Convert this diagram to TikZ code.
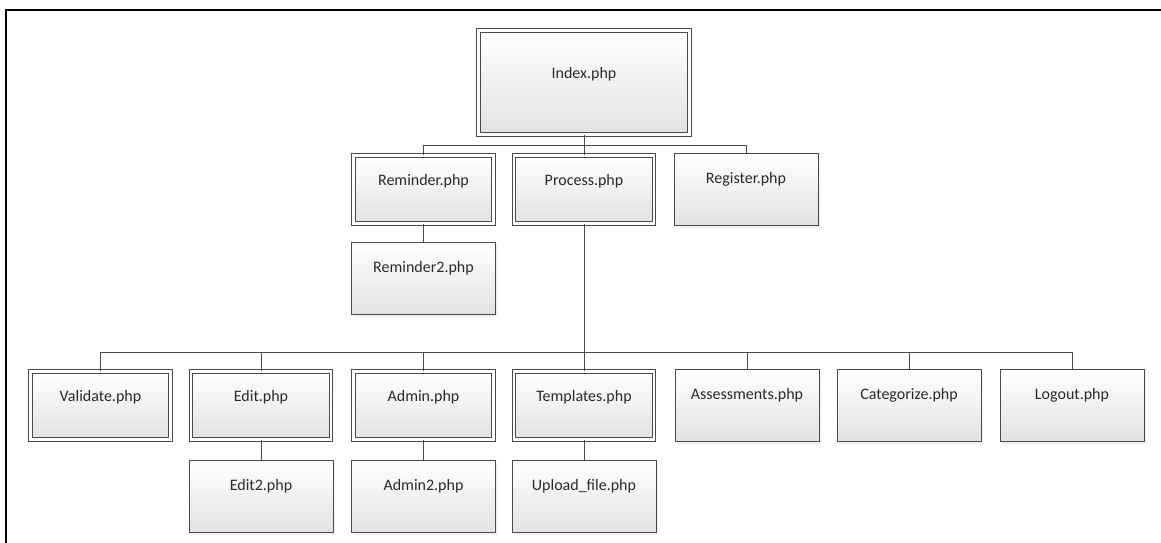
\documentclass[tikz,border=0pt]{standalone}
\usepackage{fontspec}
\setmainfont{Carlito}
\usepackage{xcolor}
\usepackage{tikz}
\usetikzlibrary{arrows.meta, positioning, shadows}

\definecolor{linegray}{HTML}{4A4A4A}
\definecolor{boxgray}{HTML}{E2E2E2}
\definecolor{textgray}{HTML}{2A2A2A}

\begin{document}
\begin{tikzpicture}[
    x=1pt, y=-1pt,
    ttl/.style={anchor=north, inner sep=0pt, yshift=-19pt, text=textgray, font=\fontsize{16}{19}\selectfont},
    pbox/.style={rectangle, draw=linegray, line width=1pt, top color=white, bottom color=boxgray, minimum width=144pt, minimum height=72pt, inner sep=0pt, drop shadow={opacity=0.12, shadow xshift=2pt, shadow yshift=-2pt}},
    dbox/.style={pbox, double=white, double distance=2.6pt, minimum width=140pt, minimum height=68pt},
    link/.style={draw=linegray, line width=1pt},
  ]

  \useasboundingbox (0,0) rectangle (1161,543);
  % frame
  \draw[line width=1.6pt] (6,543) -- (6,10) -- (1161,10);

  % top level
  \node[dbox, minimum width=211pt, minimum height=104pt, label={[ttl, yshift=-18pt]north:Index.php}] (index) at (584,82.5) {};

  % second level
  \node[dbox, label={[ttl]north:Reminder.php}] (rem) at (423.5,189.5) {};
  \node[dbox, label={[ttl]north:Process.php}] (proc) at (584,189.5) {};
  \node[pbox, label={[ttl]north:Register.php}] (reg) at (746,189.5) {};
  \node[pbox, below=18pt of rem, label={[ttl]north:Reminder2.php}] (rem2) {};

  % third level
  \node[dbox, label={[ttl]north:Validate.php}] (validate) at (100.5,405.5) {};
  \node[dbox, label={[ttl]north:Edit.php}] (edit) at (261,405.5) {};
  \node[dbox, label={[ttl]north:Admin.php}] (admin) at (423.5,405.5) {};
  \node[dbox, label={[ttl]north:Templates.php}] (templates) at (584,405.5) {};
  \node[pbox, label={[ttl]north:Assessments.php}] (assess) at (747,405.5) {};
  \node[pbox, label={[ttl]north:Categorize.php}] (categ) at (909,405.5) {};
  \node[pbox, label={[ttl]north:Logout.php}] (logout) at (1072,405.5) {};

  % fourth level
  \node[pbox, label={[ttl]north:Edit2.php}] (edit2) at (261,496.5) {};
  \node[pbox, label={[ttl]north:Admin2.php}] (admin2) at (423.5,496.5) {};
  \node[pbox, label={[ttl]north:Upload\_file.php}] (upload) at (584,496.5) {};

  % connectors
  \coordinate (bus1) at (584,145);
  \coordinate (bus2) at (584,352);
  \draw[link] (index.south) -- (bus1);
  \draw[link] (bus1) -| (rem.north);
  \draw[link] (bus1) -| (reg.north);
  \draw[link] (bus1) -- (proc.north);
  \draw[link] (rem.south) -- (rem2.north);
  \draw[link] (proc.south) -- (bus2);
  \foreach \n in {validate, edit, admin, templates, assess, categ, logout}
    \draw[link] (bus2) -| (\n.north);
  \draw[link] (edit.south) -- (edit2.north);
  \draw[link] (admin.south) -- (admin2.north);
  \draw[link] (templates.south) -- (upload.north);

\end{tikzpicture}
\end{document}
